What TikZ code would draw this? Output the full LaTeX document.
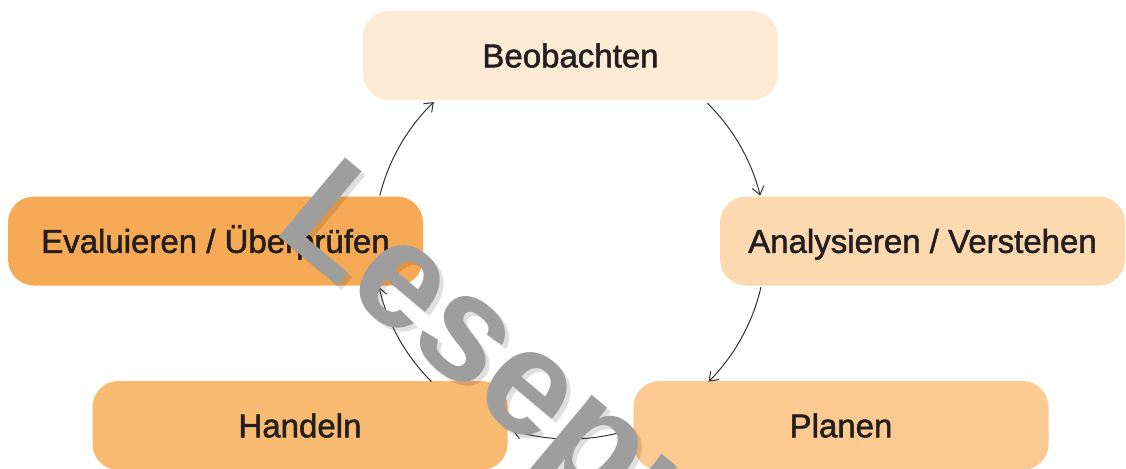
\documentclass[tikz,border=0pt]{standalone}
\usepackage{fontspec}
\setmainfont{Liberation Sans}
\newfontfamily\medfont[FakeBold=1.6]{Liberation Sans}
\usetikzlibrary{arrows.meta,calc}
\definecolor{cBeo}{HTML}{FDEBD5}
\definecolor{cAna}{HTML}{FDD9AF}
\definecolor{cPla}{HTML}{FDCA91}
\definecolor{cHan}{HTML}{F9BA71}
\definecolor{cEva}{HTML}{F7AA55}
\definecolor{txt}{HTML}{231F20}
\definecolor{arr}{HTML}{333333}
\definecolor{wm}{HTML}{9E9E9E}
\begin{document}
\begin{tikzpicture}[x=0.5pt,y=0.5pt,
  box/.style={rounded corners=13pt, inner sep=0pt, minimum width=207.5pt,
    minimum height=44.5pt, text height=11.8pt, text depth=0pt, text=txt,
    font=\medfont\fontsize{16.5}{20}\selectfont},
  cyc/.style={draw=arr, line width=0.5pt, -{Straight Barb[length=4pt,width=6pt]}},
  wmark/.style={rotate=-40, anchor=base west, inner sep=0pt,
    font=\fontsize{75}{90}\selectfont\bfseries}]
\clip (0,0) rectangle (1126,468);
\fill[white] (0,0) rectangle (1126,468);
\node[box, fill=cBeo] (beo) at (570.5,412.5) {Beobachten};
\node[box, fill=cAna, minimum width=202.5pt] (ana) at (922.5,227) {Analysieren / Verstehen};
\node[box, fill=cPla] (pla) at (841,42.5) {Planen};
\node[box, fill=cHan] (han) at (300,42.5) {Handeln};
\node[box, fill=cEva] (eva) at (215.5,227) {Evaluieren / Überprüfen};
\coordinate (c) at (570,225);
\coordinate (p1) at ($(c)+(166:196)$);
\coordinate (p2) at ($(c)+(45.5:196)$);
\coordinate (p3) at ($(c)+(-13:196)$);
\coordinate (p4) at ($(c)+(-73.5:196)$);
\coordinate (p5) at ($(c)+(225:196)$);
\draw[cyc] (p1) arc[start angle=166, end angle=134, radius=196];
\draw[cyc] (p2) arc[start angle=45.5, end angle=14, radius=196];
\draw[cyc] (p3) arc[start angle=-13, end angle=-45, radius=196];
\draw[cyc] (p4) arc[start angle=-73.5, end angle=-107, radius=196];
\draw[cyc] (p5) arc[start angle=225, end angle=193, radius=196];
\node[wmark, text=black, opacity=0.12] (wms) at (275.6,234) {Leseprobe};
\node[wmark, text=wm] (wmk) at (271.6,238) {Leseprobe};
\end{tikzpicture}
\end{document}
